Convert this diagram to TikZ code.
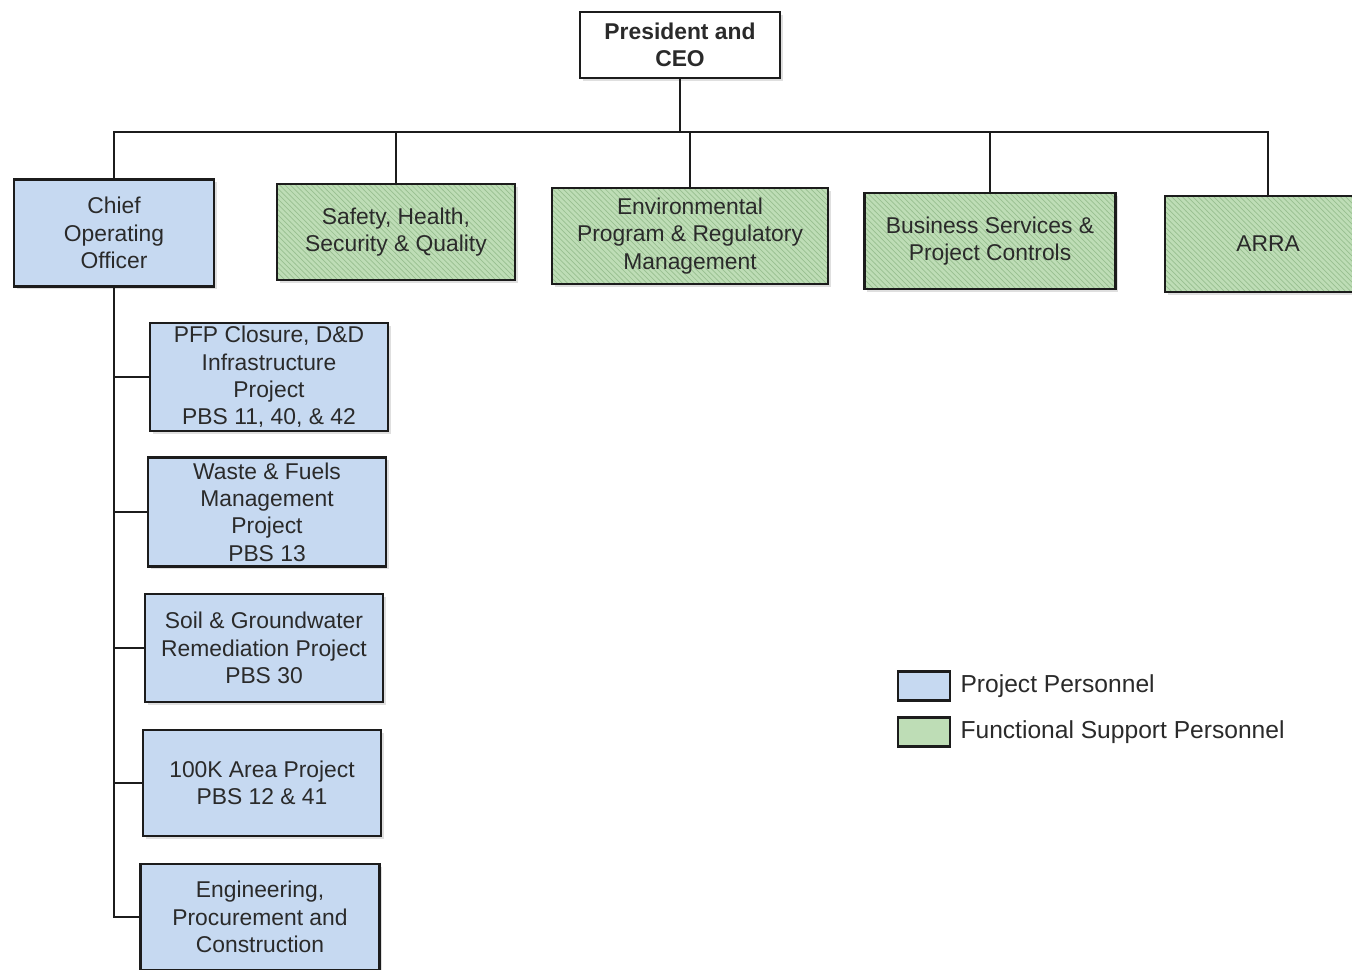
\documentclass[tikz,border=0pt]{standalone}
\usepackage{fontspec}
\setmainfont{Liberation Sans}
\usetikzlibrary{patterns,shadows}
\definecolor{projblue}{HTML}{C6D9F1}
\definecolor{funcgreen}{HTML}{BEDDB6}
\definecolor{hatch}{HTML}{98BF90}
\definecolor{boxline}{HTML}{1C1C1C}
\definecolor{txt}{HTML}{2A2A2A}

\begin{document}
\begin{tikzpicture}[x=0.02cm, y=-0.02cm,
		box/.style={draw=boxline, line width=1.2pt, align=center, text=txt,
			font=\fontsize{13}{15.5}\selectfont, inner sep=2pt,
			drop shadow={shadow xshift=1.5pt, shadow yshift=-1.5pt, opacity=0.25}},
		proj/.style={box, fill=projblue},
		func/.style={box, fill=funcgreen,
			postaction={pattern=north west lines, pattern color=hatch},
			postaction={draw=boxline, line width=1.2pt}},
		link/.style={draw=boxline, line width=0.8pt},
		legend/.style={draw=boxline, line width=1.6pt, minimum width=1.04cm, minimum height=0.58cm}]
	\useasboundingbox (0,0) rectangle (1352,970);
	% top
	\node[box, fill=white, font=\bfseries\fontsize{13}{15.5}\selectfont, minimum width=4cm, minimum height=1.32cm] (ceo) at (680,45) {President and\\CEO};
	\coordinate (bus) at (680,132);
	% second row
	\node[proj, minimum width=4cm, minimum height=2.14cm] (coo) at (114,233) {Chief\\Operating\\Officer};
	\node[func, minimum width=4.76cm, minimum height=1.92cm] (shsq) at (396,232) {Safety, Health,\\Security \& Quality};
	\node[func, minimum width=5.52cm, minimum height=1.92cm] (env) at (690,236) {Environmental\\Program \& Regulatory\\Management};
	\node[func, minimum width=5.02cm, minimum height=1.92cm] (bspc) at (990,241) {Business Services \&\\Project Controls};
	\node[func, minimum width=4.12cm, minimum height=1.92cm] (arra) at (1268,244) {ARRA};
	% projects under the COO
	\node[proj, minimum width=4.76cm, minimum height=2.16cm] (pfp) at (269,377) {PFP Closure, D\&D\\Infrastructure\\Project\\PBS 11, 40, \& 42};
	\node[proj, minimum width=4.76cm, minimum height=2.18cm] (wfm) at (267,512) {Waste \& Fuels\\Management\\Project\\PBS 13};
	\node[proj, minimum width=4.76cm, minimum height=2.16cm] (sgw) at (264,648) {Soil \& Groundwater\\Remediation Project\\PBS 30};
	\node[proj, minimum width=4.76cm, minimum height=2.12cm] (hk) at (262,783) {100K Area Project\\PBS 12 \& 41};
	\node[proj, minimum width=4.78cm, minimum height=2.12cm] (epc) at (260,917) {Engineering,\\Procurement and\\Construction};
	% connectors
	\draw[link] (ceo.south) -- (bus);
	\draw[link] (coo.north) |- (bus) -| (arra.north);
	\foreach \n in {shsq,env,bspc}
		\draw[link] (\n.north) -- (\n.north |- bus);
	\foreach \n in {pfp,wfm,sgw,hk,epc}
		\draw[link] (coo.south) |- (\n.west);
	% legend
	\node[legend, fill=projblue] (lgproj) at (924,686) {};
	\node[legend, fill=funcgreen] (lgfunc) at (924,732) {};
	\node[anchor=west, text=txt, font=\fontsize{14}{16}\selectfont, inner sep=5pt] (lgprojtxt) at (lgproj.east) {Project Personnel};
	\node[anchor=west, text=txt, font=\fontsize{14}{16}\selectfont, inner sep=5pt] (lgfunctxt) at (lgfunc.east) {Functional Support Personnel};
\end{tikzpicture}
\end{document}
